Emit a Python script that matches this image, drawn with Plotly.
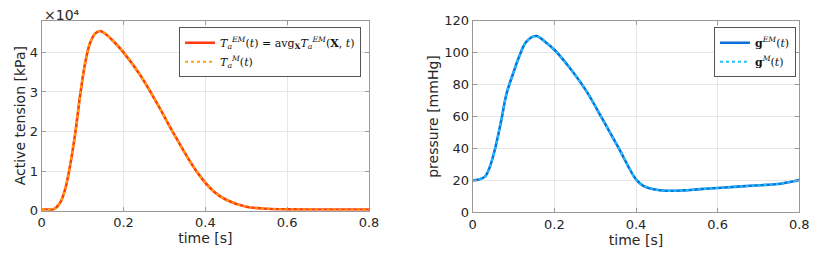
import plotly.graph_objects as go

# Left panel: active tension [kPa]
t_ta = [0.0, 0.015, 0.0286, 0.045, 0.057, 0.069, 0.082, 0.094, 0.106, 0.118, 0.131, 0.143, 0.159, 0.18, 0.2,
        0.241, 0.282, 0.322, 0.378, 0.419, 0.452, 0.5, 0.55, 0.6, 0.7, 0.8]
ta_em = [300, 300, 330, 2000, 5300, 11200, 19600, 29200, 37200, 42300, 44800, 45400, 44400, 42300, 40000,
         34200, 27100, 19600, 10000, 5000, 2700, 1000, 500, 350, 300, 300]
ta_m = ta_em

# Right panel: pressure [mmHg]
t_p = [0.0, 0.015, 0.03, 0.042, 0.054, 0.07, 0.083, 0.099, 0.115, 0.131, 0.155, 0.18, 0.2, 0.236, 0.277,
       0.317, 0.358, 0.4, 0.418, 0.443, 0.475, 0.516, 0.557, 0.6, 0.68, 0.754, 0.8]
p_em = [20.0, 20.6, 22.3, 28.5, 39.0, 57.7, 74.4, 86.9, 98.3, 106.7, 110.4, 106.2, 101.8, 91.0, 76.5,
        58.8, 40.0, 20.6, 16.6, 14.5, 13.5, 13.7, 14.5, 15.2, 16.6, 17.9, 20.2]
p_m = p_em

x_ticks = [0, 0.2, 0.4, 0.6, 0.8]
x_ticklabels = ["0", "0.2", "0.4", "0.6", "0.8"]
ta_ticks = [0, 10000, 20000, 30000, 40000]
ta_ticklabels = ["0", "1", "2", "3", "4"]
p_ticks = [0, 20, 40, 60, 80, 100, 120]

fig = go.Figure()
fig.add_trace(go.Scatter(x=t_ta, y=ta_em, mode="lines", line=dict(color="#FF3A10", width=2.6, shape="spline"),
                         name="<i>T</i><sub><i>a</i></sub><sup><i>EM</i></sup>(<i>t</i>) = avg<sub><b>X</b></sub><i>T</i><sub><i>a</i></sub><sup><i>EM</i></sup>(<b>X</b>, <i>t</i>)",
                         xaxis="x", yaxis="y", legend="legend"))
fig.add_trace(go.Scatter(x=t_ta, y=ta_m, mode="lines", line=dict(color="#FFA200", width=2.2, dash="dot", shape="spline"),
                         name="<i>T</i><sub><i>a</i></sub><sup><i>M</i></sup>(<i>t</i>)",
                         xaxis="x", yaxis="y", legend="legend"))
fig.add_trace(go.Scatter(x=t_p, y=p_em, mode="lines", line=dict(color="#0A6FD8", width=2.6, shape="spline"),
                         name="<b>g</b><sup><i>EM</i></sup>(<i>t</i>)",
                         xaxis="x2", yaxis="y2", legend="legend2"))
fig.add_trace(go.Scatter(x=t_p, y=p_m, mode="lines", line=dict(color="#1EC0FF", width=2.2, dash="dot", shape="spline"),
                         name="<b>g</b><sup><i>M</i></sup>(<i>t</i>)",
                         xaxis="x2", yaxis="y2", legend="legend2"))

axis_common = dict(showline=True, mirror="ticks", linecolor="#9a9a9a", linewidth=1, ticks="inside", ticklen=4,
                   tickcolor="#9a9a9a", showgrid=True, gridcolor="#e6e6e6", gridwidth=1, zeroline=False,
                   automargin=False,
                   tickfont=dict(family="DejaVu Sans", size=13, color="#262626"))
title_font = dict(family="DejaVu Sans", size=14, color="#262626")

legend_common = dict(xanchor="right", yanchor="top", bgcolor="white", bordercolor="#555555", borderwidth=1,
                     font=dict(family="DejaVu Serif", size=11, color="#111111"), tracegroupgap=0, itemwidth=30,
                     traceorder="normal")

fig.update_layout(
    width=814, height=247,
    margin=dict(l=0, r=0, t=0, b=0),
    paper_bgcolor="white", plot_bgcolor="white",
    xaxis=dict(domain=[0.0414, 0.4435], range=[0, 0.8], tickvals=x_ticks, ticktext=x_ticklabels,
               title=dict(text="time [s]", font=title_font, standoff=2), anchor="y", **axis_common),
    yaxis=dict(domain=[0.1793, 0.9486], range=[0, 48000], tickvals=ta_ticks, ticktext=ta_ticklabels,
               title=dict(text="Active tension [kPa]", font=title_font, standoff=0), anchor="x", **axis_common),
    xaxis2=dict(domain=[0.5709, 0.9721], range=[0, 0.8], tickvals=x_ticks, ticktext=x_ticklabels,
                title=dict(text="time [s]", font=title_font, standoff=2), anchor="y2", **axis_common),
    yaxis2=dict(domain=[0.1729, 0.9486], range=[0, 120], tickvals=p_ticks,
                title=dict(text="pressure [mmHg]", font=title_font, standoff=2), anchor="x2", **axis_common),
    legend=dict(x=0.4337, y=0.922, **legend_common),
    legend2=dict(x=0.968, y=0.922, **legend_common),
    annotations=[dict(text="×10⁴", xref="paper", yref="paper", x=0.0414, y=1.0, xanchor="left", yanchor="top",
                      yshift=3, showarrow=False, font=dict(family="DejaVu Sans", size=14, color="#262626"))],
)

fig.write_html("out.html")
